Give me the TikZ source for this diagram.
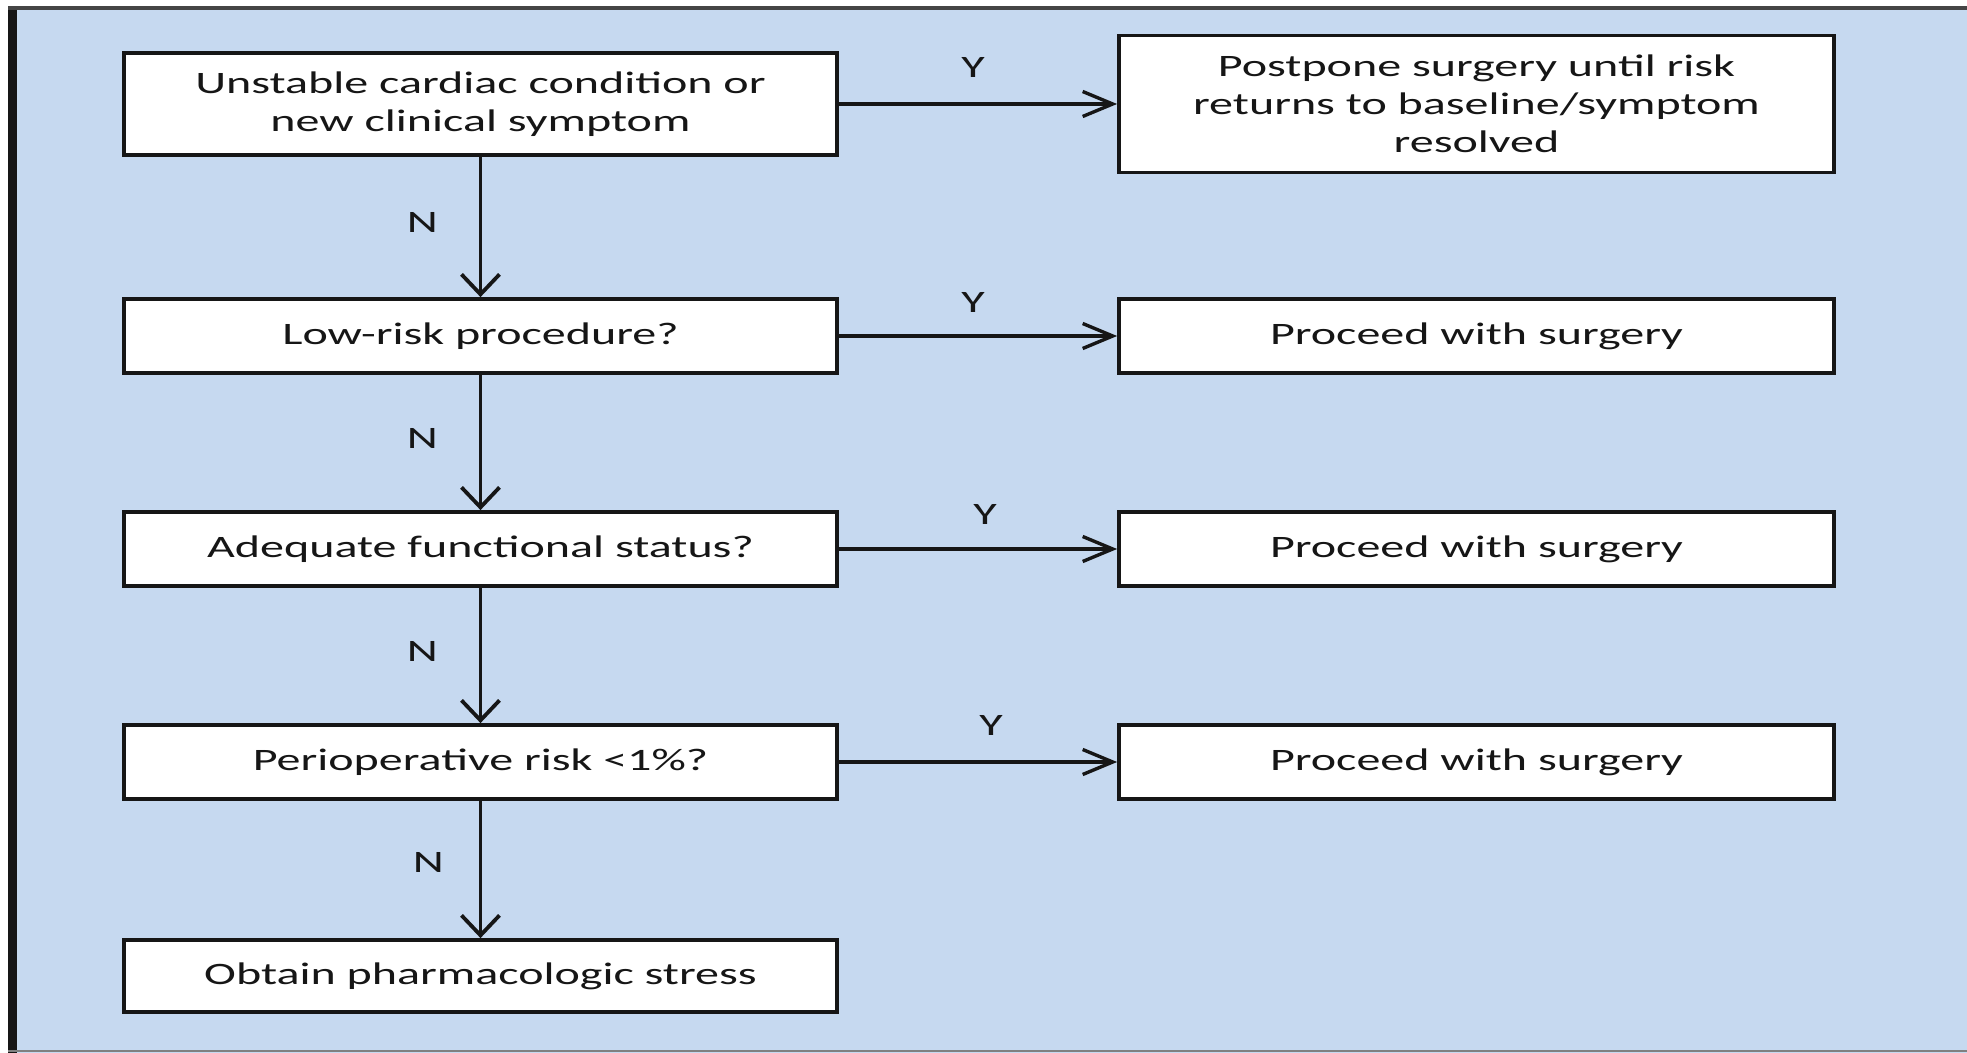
\documentclass[tikz,border=0pt]{standalone}
\usepackage{fontspec}
\setmainfont{Carlito}[FakeStretch=1.54]
\usetikzlibrary{arrows.meta}
\definecolor{bgblue}{RGB}{198,217,240}
\definecolor{ink}{RGB}{22,22,22}
\begin{document}
\begin{tikzpicture}[x=0.5pt,y=-0.5pt,
  box/.style={draw=ink,line width=1.9pt,fill=white,text=ink,inner sep=0pt,
    align=center,font=\fontsize{15.6pt}{19pt}\selectfont,
    minimum width=356.5pt,minimum height=37pt},
  rbox/.style={box,minimum width=357.5pt},
  varr/.style={draw=ink,line width=1.9pt,-{Straight Barb[length=10pt,width=19pt,line width=1.9pt]}},
  harr/.style={draw=ink,line width=1.7pt,-{Straight Barb[length=15pt,width=12.5pt,line width=1.7pt]}},
  lbl/.style={text=ink,inner sep=0pt,font=\fontsize{15.6pt}{19pt}\selectfont}]
\useasboundingbox (0,0) rectangle (1967,1053);
\fill[white] (0,0) rectangle (1967,1053);
\fill[bgblue] (8,8) rectangle (1967,1053);
\fill[ink] (8,6) rectangle (17,1053);
\draw[ink!80,line width=2pt] (8,8) -- (1967,8);
\draw[gray,line width=1pt] (8,1051) -- (1967,1051);

\node[box,minimum height=51pt] (b1) at (480.5,104) {Unstable cardiac condition or\\new clinical symptom};
\node[rbox,minimum height=68.5pt] (r1) at (1476.5,104) {Postpone surgery until risk\\returns to baseline/symptom\\resolved};
\node[box] (b2) at (480.5,336) {Low-risk procedure?};
\node[rbox] (r2) at (1476.5,336) {Proceed with surgery};
\node[box] (b3) at (480.5,549) {Adequate functional status?};
\node[rbox] (r3) at (1476.5,549) {Proceed with surgery};
\node[box] (b4) at (480.5,762) {Perioperative risk <1\%?};
\node[rbox] (r4) at (1476.5,762) {Proceed with surgery};
\node[box,minimum height=36pt] (b5) at (480.5,976) {Obtain pharmacologic stress};

\draw[harr] (b1) -- node[lbl,midway,xshift=-2.5pt,yshift=18.5pt] {Y} (r1);
\draw[harr] (b2) -- node[lbl,midway,xshift=-2.5pt,yshift=17pt] {Y} (r2);
\draw[harr] (b3) -- node[lbl,midway,xshift=3.5pt,yshift=17.5pt] {Y} (r3);
\draw[harr] (b4) -- node[lbl,midway,xshift=6.5pt,yshift=18.5pt] {Y} (r4);

\draw[varr] (b1) -- node[lbl,midway,xshift=-29pt,yshift=2.5pt] {N} (b2);
\draw[varr] (b2) -- node[lbl,midway,xshift=-29pt,yshift=2pt] {N} (b3);
\draw[varr] (b3) -- node[lbl,midway,xshift=-29pt,yshift=2pt] {N} (b4);
\draw[varr] (b4) -- node[lbl,midway,xshift=-26pt,yshift=3.5pt] {N} (b5);
\end{tikzpicture}
\end{document}
